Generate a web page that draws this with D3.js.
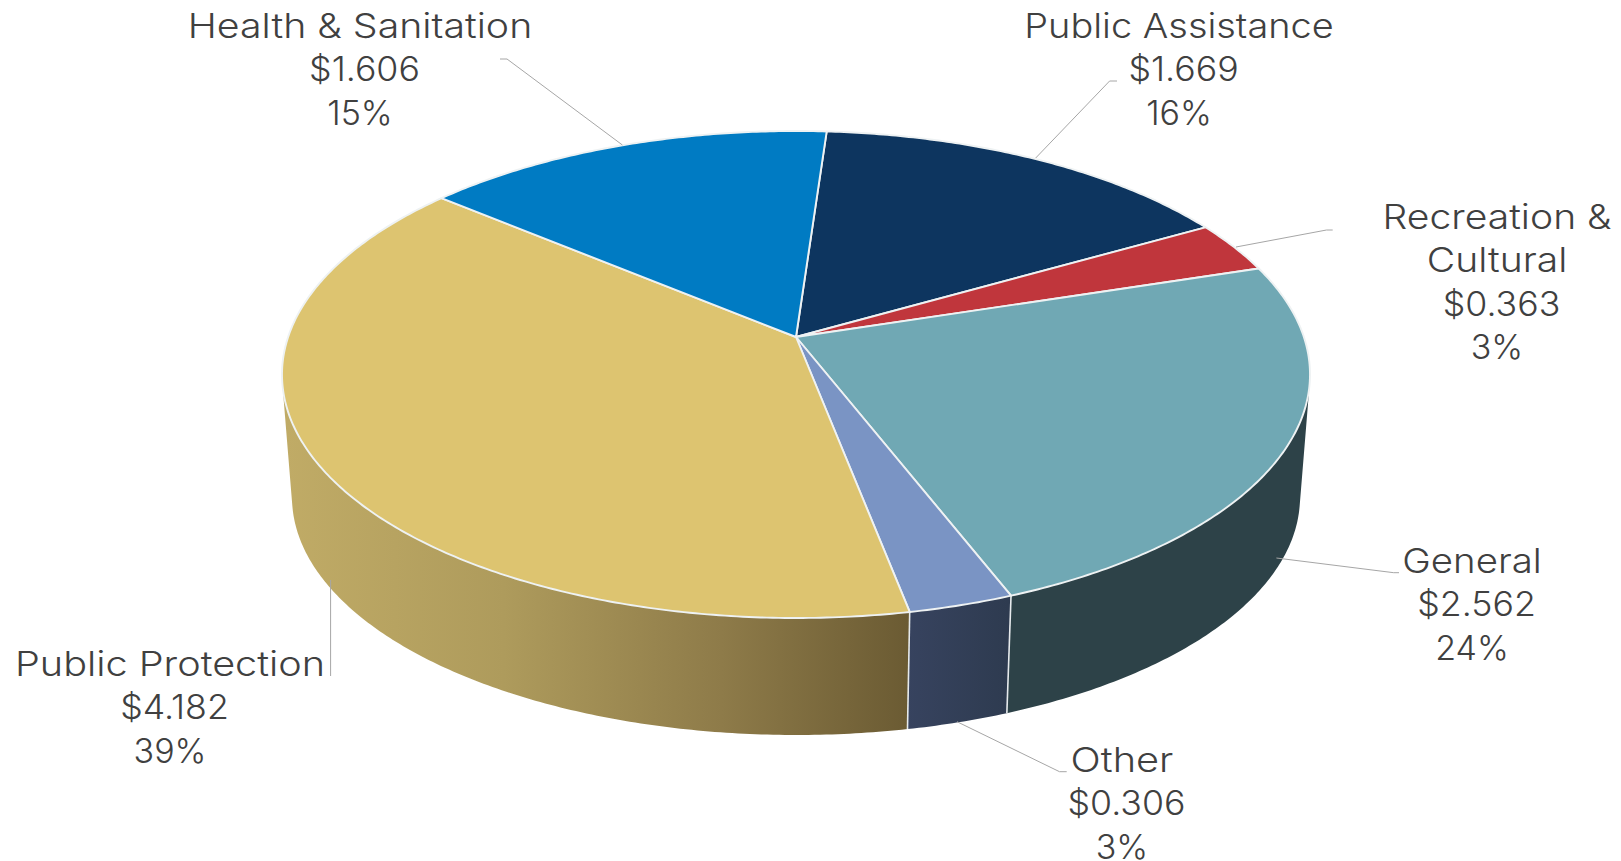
<!DOCTYPE html>
<html>
<head>
<meta charset="utf-8">
<script src="https://cdnjs.cloudflare.com/ajax/libs/d3/7.8.5/d3.min.js"></script>
<style>
html, body { margin: 0; padding: 0; background: #fff; }
svg { display: block; }
text { font-family: Inter, "Open Sans", sans-serif; font-weight: 300; font-size: 34px; fill: #404040; text-anchor: middle; }
</style>
</head>
<body>
<script>
// $ billions, clockwise from the first slice
const categories = ["Public Assistance", "Recreation & Cultural", "General", "Other", "Public Protection", "Health & Sanitation"]
const values = [1.669, 0.363, 2.562, 0.306, 4.182, 1.606]
const percents = ["16%", "3%", "24%", "3%", "39%", "15%"]
const amounts = ["$1.669", "$0.363", "$2.562", "$0.306", "$4.182", "$1.606"]

const topColors = ["#0d355f", "#c0363c", "#70a8b4", "#7a94c4", "#ddc470", "#007bc3"]
const wallColors = ["#0a2845", "#8c282c", "#2d4248", "url(#wallOther)", "url(#wallGold)", "#005a8e"]

// category names wrapped the way the labels show them
const nameLines = [
        ["Public Assistance"],
        ["Recreation &", "Cultural"],
        ["General"],
        ["Other"],
        ["Public Protection"],
        ["Health & Sanitation"]
]
const labelX = [1179, 1497, 1472, 1122, 170, 360]
const labelY = [38, 229, 573, 772, 676, 38]
// Inter is narrower than the lettering of the reference, so names get stretched sideways
const nameStretch = [1.115, 1.15, 1.13, 1.17, 1.165, 1.155]

const leaders = [
        [[1117, 81], [1109.6, 81], [1035.7, 158]],
        [[1332.7, 230], [1326.5, 230], [1236, 247]],
        [[1399, 572.7], [1393.7, 572.7], [1276.4, 558]],
        [[1066.7, 771.7], [1059.5, 771.7], [957, 721.7]],
        [[330.6, 676], [330.6, 580]],
        [[500, 59], [507, 59], [622.4, 145]]
]

const w = 1621, h = 861
const svg = d3.select("body").append("svg").attr("width", w).attr("height", h)

const defs = svg.append("defs")
function gradient(id, x1, x2, stops) {
        const g = defs.append("linearGradient").attr("id", id)
                .attr("gradientUnits", "userSpaceOnUse")
                .attr("x1", x1).attr("x2", x2).attr("y1", 0).attr("y2", 0)
        stops.forEach(function(s) {
                g.append("stop").attr("offset", s[0]).attr("stop-color", s[1])
        })
}
gradient("wallGold", 286, 908, [[0, "#c0ab66"], [0.35, "#ae9b5c"], [0.7, "#8e7b49"], [1, "#6b5b33"]])
gradient("wallOther", 906, 1008, [[0, "#37435f"], [1, "#2e3b50"]])

// the top face is a circle seen in perspective: the centre of the pie sits above the centre of the ellipse
const topX = d3.scaleLinear().domain([-1, 1]).range([282, 1310])
const topY = d3.scaleLinear().domain([-1, 1]).range([131, 618])
const botX = d3.scaleLinear().domain([-1, 1]).range([292, 1300])
const botY = d3.scaleLinear().domain([-1, 1]).range([259, 735])
const k = 0.154

function project(a) {
        const sx = Math.sin(a), sy = -Math.cos(a)
        const d = 1 - k * sy
        return [sx * Math.sqrt(1 - k * k) / d, (sy - k) / d]
}
function onTop(a) {
        const p = project(a)
        return [topX(p[0]), topY(p[1])]
}
function onBottom(a) {
        const p = project(a)
        return [botX(p[0]), botY(p[1])]
}

// where a wall edge runs along the outline of the drum, found by scanning the rim
function silhouette(from, to) {
        const da = 0.001
        let best = from, bestErr = Infinity
        d3.range(from, to, 0.002).forEach(function(a) {
                const t = onTop(a), b = onBottom(a), t2 = onTop(a + da)
                const err = Math.abs((b[0] - t[0]) * (t2[1] - t[1]) - (b[1] - t[1]) * (t2[0] - t[0])) /
                        Math.hypot(t2[0] - t[0], t2[1] - t[1])
                if (err < bestErr) { bestErr = err; best = a }
        })
        return best
}
const frontStart = silhouette(Math.PI * 0.25, Math.PI * 0.9)
const frontEnd = silhouette(Math.PI * 1.1, Math.PI * 1.75)

const pie = d3.pie().sort(null)
        .startAngle(4 * Math.PI / 180)
        .endAngle(364 * Math.PI / 180)
const slices = pie(values)

function sample(a0, a1) {
        const n = Math.ceil((a1 - a0) / 0.01)
        return d3.range(n + 1).map(function(i) {
                return a0 + (a1 - a0) * i / n
        })
}

const line = d3.line()

// only the part of each slice that faces the viewer has a wall
const walls = slices.map(function(d, i) {
        return { a0: Math.max(d.startAngle, frontStart), a1: Math.min(d.endAngle, frontEnd), color: wallColors[i] }
}).filter(function(d) { return d.a1 > d.a0 })

svg.append("g").selectAll("path").data(walls).enter().append("path")
        .attr("fill", function(d) { return d.color })
        .attr("d", function(d) {
                const as = sample(d.a0, d.a1)
                return line(as.map(onTop).concat(as.slice().reverse().map(onBottom))) + "Z"
        })

// visible edges between wall pieces
svg.append("g").selectAll("line").data([slices[3].startAngle, slices[3].endAngle]).enter().append("line")
        .attr("x1", function(a) { return onTop(a)[0] })
        .attr("y1", function(a) { return onTop(a)[1] })
        .attr("x2", function(a) { return onBottom(a)[0] })
        .attr("y2", function(a) { return onBottom(a)[1] })
        .attr("stroke", "#e6eaec")
        .attr("stroke-width", 1.6)

const apex = [topX(0), topY(-k)]
svg.append("g").selectAll("path").data(slices).enter().append("path")
        .attr("fill", function(d, i) { return topColors[i] })
        .attr("stroke", "#eef2f3")
        .attr("stroke-width", 1.9)
        .attr("stroke-linejoin", "round")
        .attr("d", function(d) {
                return line([apex].concat(sample(d.startAngle, d.endAngle).map(onTop))) + "Z"
        })

svg.append("g").selectAll("path").data(leaders).enter().append("path")
        .attr("fill", "none")
        .attr("stroke", "#a6a6a6")
        .attr("stroke-width", 1)
        .attr("d", line)

const labelRows = []
categories.forEach(function(c, i) {
        nameLines[i].forEach(function(t) {
                labelRows.push({ text: t, i: i, stretch: nameStretch[i], dx: 0 })
        })
        labelRows.push({ text: amounts[i], i: i, stretch: 1.05, dx: 4.5 })
        labelRows.push({ text: percents[i], i: i, stretch: 1, dx: 0 })
})
const rowCount = {}
labelRows.forEach(function(r) {
        r.row = rowCount[r.i] || 0
        rowCount[r.i] = r.row + 1
})

svg.append("g").selectAll("text").data(labelRows).enter().append("text")
        .attr("transform", function(d) {
                return "translate(" + (labelX[d.i] + d.dx) + "," + (labelY[d.i] + d.row * 43.3) + ") scale(" + d.stretch + ",1)"
        })
        .text(function(d) { return d.text })
</script>
</body>
</html>
